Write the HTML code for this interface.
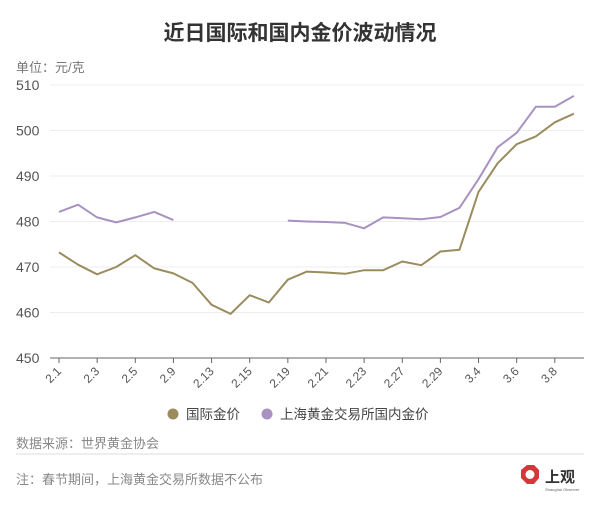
<!DOCTYPE html>
<html><head><meta charset="utf-8"><style>
html,body{margin:0;padding:0;background:#fff;width:600px;height:510px;overflow:hidden}
svg text{font-family:"Liberation Sans","Noto Sans CJK SC",sans-serif}
</style></head><body>
<svg id="s" width="600" height="510" viewBox="0 0 600 510" xmlns="http://www.w3.org/2000/svg">
<text x="300" y="40" text-anchor="middle" font-size="21" font-weight="bold" fill="#333">近日国际和国内金价波动情况</text>
<text x="16" y="72" font-size="13" fill="#777">单位：元/克</text>
<g id="grid"></g>
<g id="lines"></g>
<circle cx="173" cy="414" r="5.5" fill="#9a8c5e"/>
<text x="186" y="419" font-size="13.5" fill="#444">国际金价</text>
<circle cx="267" cy="414" r="5.5" fill="#a892c2"/>
<text x="280" y="419" font-size="13.5" fill="#444">上海黄金交易所国内金价</text>
<text x="16" y="448" font-size="13" fill="#888">数据来源：世界黄金协会</text>
<line x1="16" y1="454" x2="584" y2="454" stroke="#ddd" stroke-width="1"/>
<text x="16" y="484" font-size="13" fill="#888">注：春节期间，上海黄金交易所数据不公布</text>
<polygon points="521,470 527,465 534,465 539,470 539,478 534,484 527,484 521,478" fill="#d9363a"/>
<circle cx="530" cy="474.5" r="4.5" fill="#fff"/>
<text x="545" y="482" font-size="15" font-weight="bold" fill="#333" font-family="'Noto Serif CJK SC',serif">上观</text>
<text x="545" y="491" font-size="4" fill="#666">Shanghai Observer</text>
</svg>
<script>
var g=[473.2,470.5,468.4,470,472.6,469.7,468.6,466.5,461.7,459.7,463.8,462.2,467.2,469,468.8,468.5,469.3,469.3,471.2,470.4,473.4,473.8,486.5,492.8,497,498.7,501.8,503.7];
var d=[482.1,483.7,480.9,479.8,480.9,482.1,480.3,null,null,null,null,null,480.2,480,479.9,479.7,478.5,480.9,480.7,480.5,481,483,489.3,496.3,499.5,505.2,505.2,507.6];
var labs=["2.1","2.3","2.5","2.9","2.13","2.15","2.19","2.21","2.23","2.27","2.29","3.4","3.6","3.8"];
function X(i){return 59+19.07*i}function Y(v){return 358-(v-450)*4.55}
var ns="http://www.w3.org/2000/svg",gr=document.getElementById('grid'),ln=document.getElementById('lines');
function el(t,a,p,txt){var e=document.createElementNS(ns,t);for(var k in a)e.setAttribute(k,a[k]);if(txt)e.textContent=txt;p.appendChild(e);return e}
for(var v=450;v<=510;v+=10){var y=Y(v);if(v>450)el('line',{x1:50,x2:584,y1:y,y2:y,stroke:'#eee','stroke-width':1},gr);el('text',{x:16,y:y+5,'font-size':14,fill:'#555'},gr,v)}
el('line',{x1:50,x2:584,y1:358,y2:358,stroke:'#666','stroke-width':1},gr);
for(var i=0;i<14;i++){var x=X(2*i);el('line',{x1:x,x2:x,y1:358,y2:363,stroke:'#666'},gr);el('text',{x:x+3,y:372,'font-size':12,fill:'#555','text-anchor':'end',transform:'rotate(-45 '+(x+3)+' 372)'},gr,labs[i])}
function path(a,c){var s='',pen=false;a.forEach(function(v,i){if(v==null){pen=false;return}s+=(pen?'L':'M')+X(i).toFixed(1)+' '+Y(v).toFixed(1);pen=true});el('path',{d:s,fill:'none',stroke:c,'stroke-width':2,'stroke-linejoin':'round'},ln)}
path(d,'#a892c2');path(g,'#9a8c5e');
</script>
</body></html>
